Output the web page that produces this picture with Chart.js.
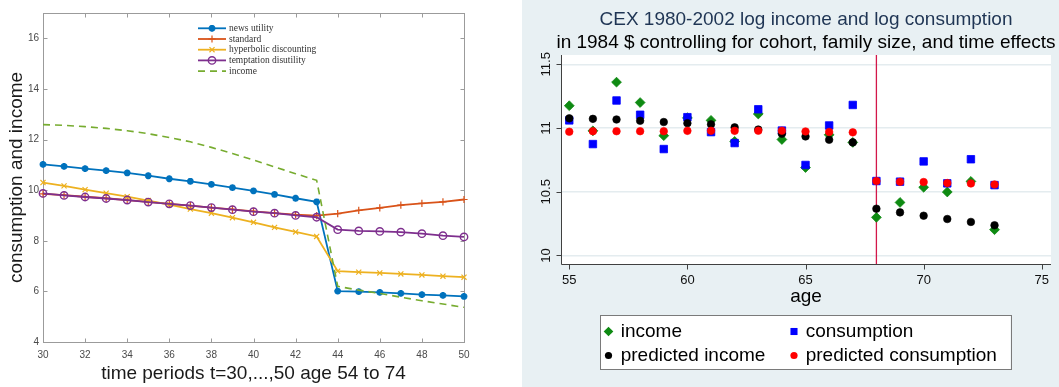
<!DOCTYPE html>
<html>
<head>
<meta charset="utf-8">
<script src="https://cdn.jsdelivr.net/npm/chart.js"></script>
<style>
html, body { margin: 0; padding: 0; background: #ffffff; }
#wrap { position: relative; width: 1059px; height: 387px; overflow: hidden; background: #ffffff; }
#left { position: absolute; left: 0; top: 0; }
#right { position: absolute; left: 522px; top: 0; background: #e8f0f3; }
</style>
</head>
<body>
<div id="wrap">
  <canvas id="left" width="520" height="387"></canvas>
  <canvas id="right" width="537" height="387"></canvas>
</div>
<script>
// ---------- Left panel data (model simulation) ----------
const periods = [30,31,32,33,34,35,36,37,38,39,40,41,42,43,44,45,46,47,48,49,50];
const newsUtility = [11.02,10.94,10.85,10.77,10.68,10.57,10.45,10.35,10.23,10.10,9.97,9.83,9.68,9.54,6.01,5.99,5.96,5.92,5.87,5.84,5.80];
const standard    = [9.85,9.80,9.74,9.68,9.61,9.54,9.46,9.39,9.31,9.24,9.16,9.09,9.03,8.99,9.07,9.20,9.30,9.41,9.48,9.54,9.63];
const hyperbolic  = [10.30,10.17,10.02,9.88,9.74,9.59,9.43,9.25,9.09,8.91,8.73,8.53,8.35,8.17,6.80,6.76,6.73,6.69,6.65,6.60,6.56];
const temptation  = [9.87,9.79,9.73,9.67,9.61,9.53,9.46,9.39,9.31,9.23,9.15,9.09,9.00,8.93,8.44,8.39,8.37,8.34,8.28,8.20,8.15];
const incomeSim   = [12.59,12.56,12.51,12.44,12.35,12.23,12.08,11.91,11.69,11.45,11.19,10.92,10.65,10.39,6.20,6.05,5.92,5.77,5.63,5.50,5.37];
const leftXTicks = [30,32,34,36,38,40,42,44,46,48,50];
const leftYTicks = [4,6,8,10,12,14,16];

// ---------- Right panel data (CEX) ----------
const ages = [55,56,57,58,59,60,61,62,63,64,65,66,67,68,69,70,71,72,73];
const incomeCEX       = [11.175,10.978,11.360,11.200,10.940,11.080,11.060,10.895,11.110,10.910,10.690,10.947,10.887,10.299,10.416,10.535,10.498,10.581,10.202];
const consumptionCEX  = [11.060,10.874,11.216,11.104,10.835,11.085,10.968,10.882,11.147,10.980,10.710,11.020,11.181,10.584,10.579,10.738,10.566,10.755,10.552];
const predIncome      = [11.076,11.072,11.067,11.057,11.047,11.038,11.029,11.005,10.988,10.955,10.934,10.908,10.887,10.367,10.338,10.312,10.286,10.263,10.237];
const predConsumption = [10.971,10.975,10.975,10.975,10.975,10.978,10.978,10.978,10.979,10.979,10.973,10.969,10.966,10.584,10.578,10.576,10.568,10.565,10.557];
const rightXTicks = [55,60,65,70,75];
const rightYTicks = [10,10.5,11,11.5];
const retirementAge = 68;

const toXY = (xs, ys) => xs.map((x, i) => ({ x: x, y: ys[i] }));

Chart.defaults.font.family = "'Liberation Sans', Arial, Helvetica, sans-serif";

function drawMarker(ctx, style, x, y, r, fill, stroke, lw) {
  ctx.save();
  ctx.beginPath();
  ctx.lineWidth = lw;
  ctx.strokeStyle = stroke;
  ctx.fillStyle = fill;
  let fillable = true;
  const d = r * Math.SQRT1_2;
  switch (style) {
    case 'circle': ctx.arc(x, y, r, 0, Math.PI * 2); break;
    case 'rect': ctx.rect(x - d, y - d, 2 * d, 2 * d); break;
    case 'rectRot':
      ctx.moveTo(x, y - r); ctx.lineTo(x + r, y); ctx.lineTo(x, y + r); ctx.lineTo(x - r, y); ctx.closePath(); break;
    case 'cross':
      fillable = false;
      ctx.moveTo(x, y - r); ctx.lineTo(x, y + r); ctx.moveTo(x - r, y); ctx.lineTo(x + r, y); break;
    case 'crossRot':
      fillable = false;
      ctx.moveTo(x - d, y - d); ctx.lineTo(x + d, y + d); ctx.moveTo(x + d, y - d); ctx.lineTo(x - d, y + d); break;
    case 'star':
      fillable = false;
      ctx.moveTo(x, y - r); ctx.lineTo(x, y + r); ctx.moveTo(x - r, y); ctx.lineTo(x + r, y);
      ctx.moveTo(x - d, y - d); ctx.lineTo(x + d, y + d); ctx.moveTo(x + d, y - d); ctx.lineTo(x - d, y + d); break;
  }
  if (fillable && fill) ctx.fill();
  if (lw > 0) ctx.stroke();
  ctx.restore();
}

// ---------- Left plugin: MATLAB-like box, inner ticks and legend ----------
const matlabPlugin = {
  id: 'matlabFrame',
  beforeDatasetsDraw(chart, args, o) {
    const { ctx, chartArea: a, scales: { x, y } } = chart;
    const L = Math.round(a.left) + 0.5, R = Math.round(a.right) + 0.5;
    const T = Math.round(a.top) + 0.5, B = Math.round(a.bottom) + 0.5;
    ctx.save();
    ctx.strokeStyle = o.axisColor;
    ctx.lineWidth = 1;
    ctx.strokeRect(L, T, R - L, B - T);
    ctx.beginPath();
    x.ticks.forEach(t => {
      const px = Math.round(x.getPixelForValue(t.value)) + 0.5;
      ctx.moveTo(px, B); ctx.lineTo(px, B - o.tickLen);
      ctx.moveTo(px, T); ctx.lineTo(px, T + o.tickLen);
    });
    y.ticks.forEach(t => {
      const py = Math.round(y.getPixelForValue(t.value)) + 0.5;
      ctx.moveTo(L, py); ctx.lineTo(L + o.tickLen, py);
      ctx.moveTo(R, py); ctx.lineTo(R - o.tickLen, py);
    });
    ctx.stroke();
    ctx.restore();
  },
  afterDraw(chart, args, o) {
    const ctx = chart.ctx;
    const lg = o.legend;
    chart.data.datasets.forEach((ds, i) => {
      const yy = lg.y0 + i * lg.dy;
      ctx.save();
      ctx.strokeStyle = ds.borderColor;
      ctx.lineWidth = ds.borderWidth;
      ctx.setLineDash(ds.borderDash || []);
      ctx.beginPath();
      ctx.moveTo(lg.x0, yy); ctx.lineTo(lg.x1, yy);
      ctx.stroke();
      ctx.restore();
      if (ds.pointRadius > 0) {
        drawMarker(ctx, ds.pointStyle, (lg.x0 + lg.x1) / 2, yy, ds.pointRadius,
          ds.pointBackgroundColor, ds.borderColor, ds.pointBorderWidth);
      }
      ctx.save();
      ctx.fillStyle = lg.color;
      ctx.font = lg.font;
      ctx.textBaseline = 'middle';
      ctx.textAlign = 'left';
      ctx.fillText(ds.label, lg.textX, yy);
      ctx.restore();
    });
  }
};

new Chart(document.getElementById('left'), {
  type: 'line',
  data: {
    datasets: [
      { label: 'news utility', data: toXY(periods, newsUtility), borderColor: '#0072BD', backgroundColor: '#0072BD',
        pointBackgroundColor: '#0072BD', borderWidth: 1.8, pointStyle: 'star', pointRadius: 3.4, pointBorderWidth: 2.2, order: 5 },
      { label: 'standard', data: toXY(periods, standard), borderColor: '#D95319', backgroundColor: '#D95319',
        pointBackgroundColor: '#D95319', borderWidth: 1.8, pointStyle: 'cross', pointRadius: 3.6, pointBorderWidth: 1.2, order: 4 },
      { label: 'hyperbolic discounting', data: toXY(periods, hyperbolic), borderColor: '#EDB120', backgroundColor: '#EDB120',
        pointBackgroundColor: '#EDB120', borderWidth: 1.8, pointStyle: 'crossRot', pointRadius: 3.6, pointBorderWidth: 1.2, order: 3 },
      { label: 'temptation disutility', data: toXY(periods, temptation), borderColor: '#7E2F8E', backgroundColor: 'rgba(0,0,0,0)',
        pointBackgroundColor: 'rgba(0,0,0,0)', borderWidth: 1.8, pointStyle: 'circle', pointRadius: 3.7, pointBorderWidth: 1.4, order: 2 },
      { label: 'income', data: toXY(periods, incomeSim), borderColor: '#77AC30', backgroundColor: '#77AC30',
        borderWidth: 1.6, borderDash: [7, 5], pointRadius: 0, pointBorderWidth: 0, order: 1 }
    ]
  },
  options: {
    responsive: false,
    animation: false,
    events: [],
    clip: false,
    layout: { padding: { left: 0, right: 56, top: 13, bottom: 0 } },
    elements: { line: { tension: 0 } },
    plugins: {
      legend: { display: false },
      tooltip: { enabled: false },
      matlabFrame: {
        axisColor: '#9b9b9b', tickLen: 4,
        legend: { x0: 198, x1: 226, textX: 229, y0: 28.3, dy: 10.7, color: '#333333', font: '9.5px "Liberation Serif", "Times New Roman", serif' }
      }
    },
    scales: {
      x: {
        type: 'linear', min: 30, max: 50,
        afterBuildTicks: s => { s.ticks = leftXTicks.map(v => ({ value: v })); },
        afterFit: s => { s.height = 45; },
        grid: { display: false, drawTicks: false },
        border: { display: false },
        ticks: { padding: 7, color: '#4a4a4a', font: { size: 10 } },
        title: { display: true, text: 'time periods t=30,...,50 age 54 to 74', color: '#1a1a1a',
                 font: { size: 19 }, padding: { top: 0, bottom: 1.6 } }
      },
      y: {
        type: 'linear', min: 4, max: 17,
        afterBuildTicks: s => { s.ticks = leftYTicks.map(v => ({ value: v })); },
        afterFit: s => { s.width = 43; },
        grid: { display: false, drawTicks: false },
        border: { display: false },
        ticks: { padding: 4, color: '#4a4a4a', font: { size: 10 } },
        title: { display: true, text: 'consumption and income', color: '#1a1a1a',
                 font: { size: 19 }, padding: { top: 5.6, bottom: 0 } }
      }
    }
  },
  plugins: [matlabPlugin]
});

// ---------- Right plugin: Stata-like frame, titles, reference line, legend ----------
const stataPlugin = {
  id: 'stataFrame',
  beforeDraw(chart, args, o) {
    const { ctx, chartArea: a } = chart;
    ctx.save();
    ctx.fillStyle = o.plotBg;
    ctx.fillRect(a.left, a.top, a.right - a.left, a.bottom - a.top);
    ctx.restore();
  },
  beforeDatasetsDraw(chart, args, o) {
    const { ctx, chartArea: a, scales: { x } } = chart;
    const px = x.getPixelForValue(o.refX);
    ctx.save();
    ctx.strokeStyle = o.refColor;
    ctx.lineWidth = 1.3;
    ctx.beginPath();
    ctx.moveTo(px, a.top); ctx.lineTo(px, a.bottom);
    ctx.stroke();
    ctx.restore();
  },
  afterDatasetsDraw(chart, args, o) {
    const { ctx, chartArea: a, scales: { x, y } } = chart;
    const L = Math.round(a.left) + 0.5, B = Math.round(a.bottom) + 0.5;
    ctx.save();
    ctx.strokeStyle = o.axisColor;
    ctx.lineWidth = 1;
    ctx.beginPath();
    ctx.moveTo(L, a.top); ctx.lineTo(L, B); ctx.lineTo(a.right, B);
    x.ticks.forEach(t => {
      const px = Math.round(x.getPixelForValue(t.value)) + 0.5;
      ctx.moveTo(px, B); ctx.lineTo(px, B + o.tickLen);
    });
    y.ticks.forEach(t => {
      const py = Math.round(y.getPixelForValue(t.value)) + 0.5;
      ctx.moveTo(L, py); ctx.lineTo(L - o.tickLen, py);
    });
    ctx.stroke();
    // rotated y tick labels
    ctx.fillStyle = o.labelColor;
    ctx.font = o.tickFont;
    ctx.textAlign = 'center';
    ctx.textBaseline = 'middle';
    y.ticks.forEach(t => {
      const py = y.getPixelForValue(t.value);
      ctx.save();
      ctx.translate(o.yLabelX, py);
      ctx.rotate(-Math.PI / 2);
      ctx.fillText(String(t.value), 0, 0);
      ctx.restore();
    });
    ctx.restore();
  },
  afterDraw(chart, args, o) {
    const { ctx, chartArea: a } = chart;
    const cx = (a.left + a.right) / 2;
    ctx.save();
    ctx.textAlign = 'center';
    ctx.textBaseline = 'middle';
    o.titles.forEach(t => {
      ctx.font = t.font;
      ctx.fillStyle = t.color;
      ctx.fillText(t.text, cx, t.y);
    });
    // legend box
    const lg = o.legend;
    ctx.fillStyle = '#ffffff';
    ctx.fillRect(lg.x, lg.y, lg.w, lg.h);
    ctx.strokeStyle = lg.border;
    ctx.lineWidth = 1;
    ctx.strokeRect(Math.round(lg.x) + 0.5, Math.round(lg.y) + 0.5, Math.round(lg.w), Math.round(lg.h));
    chart.data.datasets.forEach((ds, i) => {
      const col = i % 2, row = Math.floor(i / 2);
      const mx = lg.colMarkerX[col], yy = lg.rowY[row];
      drawMarker(ctx, ds.pointStyle, mx, yy, lg.markerR[i], ds.pointBackgroundColor, ds.pointBorderColor, 0);
      ctx.fillStyle = '#000000';
      ctx.font = lg.font;
      ctx.textAlign = 'left';
      ctx.textBaseline = 'middle';
      ctx.fillText(ds.label, lg.colTextX[col], yy);
    });
    ctx.restore();
  }
};

new Chart(document.getElementById('right'), {
  type: 'scatter',
  data: {
    datasets: [
      { label: 'income', data: toXY(ages, incomeCEX), pointStyle: 'rectRot', pointRadius: 4.9,
        pointBackgroundColor: '#0e8a12', pointBorderColor: '#0e8a12', pointBorderWidth: 0.8, order: 4 },
      { label: 'consumption', data: toXY(ages, consumptionCEX), pointStyle: 'rect', pointRadius: 5.3,
        pointBackgroundColor: '#0000ff', pointBorderColor: '#0000ff', pointBorderWidth: 0.8, order: 3 },
      { label: 'predicted income', data: toXY(ages, predIncome), pointStyle: 'circle', pointRadius: 3.8,
        pointBackgroundColor: '#000000', pointBorderColor: '#000000', pointBorderWidth: 0.6, order: 2 },
      { label: 'predicted consumption', data: toXY(ages, predConsumption), pointStyle: 'circle', pointRadius: 3.8,
        pointBackgroundColor: '#ff0000', pointBorderColor: '#ff0000', pointBorderWidth: 0.6, order: 1 }
    ]
  },
  options: {
    responsive: false,
    animation: false,
    events: [],
    clip: false,
    layout: { padding: { left: 0, right: 8, top: 55, bottom: 0 } },
    plugins: {
      legend: { display: false },
      tooltip: { enabled: false },
      stataFrame: {
        plotBg: '#ffffff', refX: retirementAge, refColor: '#d3174a', axisColor: '#404040', tickLen: 5,
        labelColor: '#111111', tickFont: '13px "Liberation Sans", Arial, sans-serif', yLabelX: 24,
        titles: [
          { text: 'CEX 1980-2002 log income and log consumption', y: 20, color: '#1f3554', font: '19px "Liberation Sans", Arial, sans-serif' },
          { text: 'in 1984 $ controlling for cohort, family size, and time effects', y: 43, color: '#000000', font: '19px "Liberation Sans", Arial, sans-serif' }
        ],
        legend: {
          x: 78, y: 315, w: 410.5, h: 54, border: '#7a7a7a',
          colMarkerX: [86.5, 272], colTextX: [98.7, 283.7], rowY: [331.5, 355.5],
          markerR: [4.8, 5.0, 3.6, 3.6],
          font: '19px "Liberation Sans", Arial, sans-serif'
        }
      }
    },
    scales: {
      x: {
        type: 'linear', min: 54.65, max: 75.39,
        afterBuildTicks: s => { s.ticks = rightXTicks.map(v => ({ value: v })); },
        afterFit: s => { s.height = 123; },
        grid: { display: false, drawTicks: false },
        border: { display: false },
        ticks: { padding: 9, color: '#111111', font: { size: 13 } },
        title: { display: true, text: 'age', color: '#000000', font: { size: 19 }, padding: { top: 0, bottom: 79 } }
      },
      y: {
        type: 'linear', min: 9.933, max: 11.573,
        afterBuildTicks: s => { s.ticks = rightYTicks.map(v => ({ value: v })); },
        afterFit: s => { s.width = 39; },
        grid: { display: true, drawTicks: false, color: '#e4ecef', lineWidth: 1.5 },
        border: { display: false },
        ticks: { display: false }
      }
    }
  },
  plugins: [stataPlugin]
});
</script>
</body>
</html>
